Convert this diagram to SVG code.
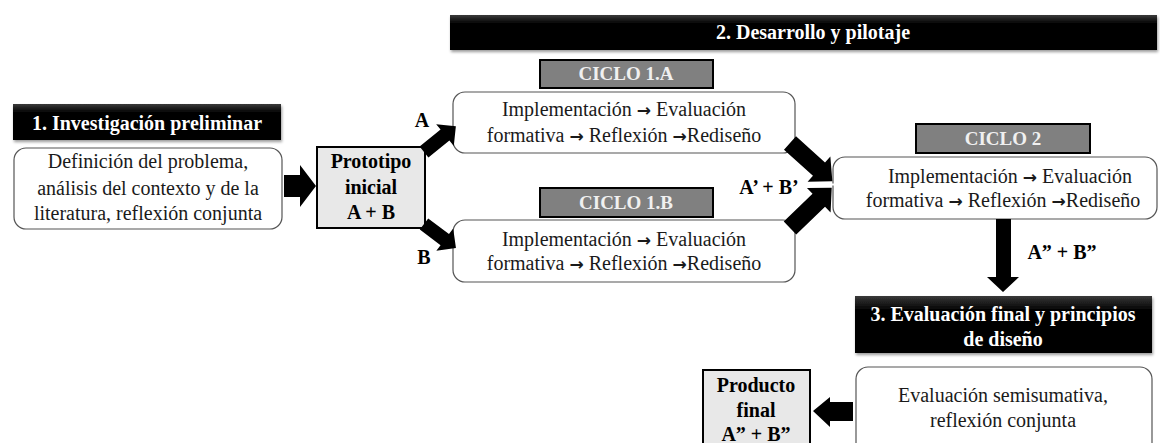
<svg xmlns="http://www.w3.org/2000/svg" width="1160" height="443" viewBox="0 0 1160 443">
<style>
.t{font-family:"Liberation Serif","DejaVu Serif",serif;font-size:20px;fill:#1a1a1a;text-anchor:middle}
.b{font-family:"Liberation Serif","DejaVu Serif",serif;font-size:20px;font-weight:bold;fill:#000;text-anchor:middle}
.h{font-family:"Liberation Serif","DejaVu Serif",serif;font-size:20px;font-weight:bold;fill:#fff;text-anchor:middle}
.c{font-family:"Liberation Serif","DejaVu Serif",serif;font-size:19px;font-weight:bold;fill:#f0f0f0;text-anchor:middle}
.ar{font-family:"DejaVu Sans",sans-serif;font-size:17px;font-weight:bold}
.box{fill:#fff;stroke:#555;stroke-width:1.2}
.proto{fill:#e8e8e8;stroke:#000;stroke-width:2}
.hdr{fill:url(#hg);filter:url(#sh)}
.cyc{fill:#808080;stroke:#000;stroke-width:2}
.arr{fill:#000}
</style>
<defs>
<linearGradient id="hg" x1="0" y1="0" x2="0" y2="1">
<stop offset="0" stop-color="#3a3a3a"/>
<stop offset="0.25" stop-color="#000"/>
<stop offset="1" stop-color="#000"/>
</linearGradient>
<filter id="sh" x="-5%" y="-20%" width="110%" height="150%">
<feGaussianBlur in="SourceAlpha" stdDeviation="1.5"/>
<feOffset dx="1" dy="2" result="o"/>
<feComponentTransfer><feFuncA type="linear" slope="0.4"/></feComponentTransfer>
<feMerge><feMergeNode/><feMergeNode in="SourceGraphic"/></feMerge>
</filter>
</defs>

<g id="header1">
<rect class="hdr" x="13" y="104" width="268" height="36"/>
<text class="h" x="147" y="130">1. Investigación preliminar</text>
</g>
<g id="header2">
<rect class="hdr" x="450" y="15" width="707" height="35"/>
<text class="h" x="813" y="39">2. Desarrollo  y pilotaje</text>
</g>
<g id="header3">
<rect class="hdr" x="855" y="296" width="297" height="57"/>
<text class="h" x="1003" y="321">3. Evaluación final y principios</text>
<text class="h" x="1003" y="346">de diseño</text>
</g>

<g id="n-prelim">
<rect class="box" x="14" y="148" width="268" height="81" rx="12"/>
<text class="t" x="148" y="168">Definición del problema,</text>
<text class="t" x="148" y="195">análisis del contexto y de la</text>
<text class="t" x="148" y="220">literatura, reflexión conjunta</text>
</g>

<g id="n-prototipo">
<rect class="proto" x="317" y="147" width="108" height="81"/>
<text class="b" x="371" y="168">Prototipo</text>
<text class="b" x="371" y="194">inicial</text>
<text class="b" x="371" y="219">A + B</text>
</g>

<g id="n-ciclo1a">
<rect class="cyc" x="540" y="60" width="173" height="28"/>
<text class="c" x="626" y="80">CICLO 1.A</text>
<rect class="box" x="453" y="92" width="342" height="61" rx="12"/>
<text class="t" x="624" y="116">Implementación <tspan class="ar">→</tspan> Evaluación</text>
<text class="t" x="624" y="142">formativa <tspan class="ar">→</tspan> Reflexión <tspan class="ar">→</tspan>Rediseño</text>
</g>

<g id="n-ciclo1b">
<rect class="cyc" x="540" y="188" width="173" height="29"/>
<text class="c" x="626" y="209">CICLO 1.B</text>
<rect class="box" x="453" y="220" width="342" height="62" rx="12"/>
<text class="t" x="624" y="246">Implementación <tspan class="ar">→</tspan> Evaluación</text>
<text class="t" x="624" y="270">formativa <tspan class="ar">→</tspan> Reflexión <tspan class="ar">→</tspan>Rediseño</text>
</g>

<g id="n-ciclo2">
<rect class="cyc" x="916" y="124" width="174" height="29"/>
<text class="c" x="1003" y="145">CICLO 2</text>
<rect class="box" x="833" y="157" width="324" height="62" rx="12"/>
<text class="t" x="1010" y="183">Implementación <tspan class="ar">→</tspan> Evaluación</text>
<text class="t" x="1003" y="207">formativa <tspan class="ar">→</tspan> Reflexión <tspan class="ar">→</tspan>Rediseño</text>
</g>

<g id="n-evalfinal">
<rect class="box" x="856" y="367" width="296" height="90" rx="12"/>
<text class="t" x="1003" y="402">Evaluación semisumativa,</text>
<text class="t" x="1003" y="427">reflexión conjunta</text>
</g>

<g id="n-producto">
<rect class="proto" x="703" y="370" width="107" height="85"/>
<text class="b" x="756" y="392">Producto</text>
<text class="b" x="756" y="417">final</text>
<text class="b" x="756" y="441">A” + B”</text>
</g>

<g id="connectors">
<polygon class="arr" points="284,175 300,175 300,165 316,186 300,207 300,197 284,197"/>
<polygon class="arr" transform="translate(424,152) rotate(-39)" points="0,-7 27,-7 27,-14 41,0 27,14 27,7 0,7"/>
<polygon class="arr" transform="translate(424,224) rotate(37)" points="0,-7 26,-7 26,-14 40,0 26,14 26,7 0,7"/>
<polygon class="arr" transform="translate(790,143) rotate(42)" points="0,-9 39,-9 39,-17 57,0 39,17 39,9 0,9"/>
<polygon class="arr" transform="translate(790,228) rotate(-44)" points="0,-9 40,-9 40,-17 58,0 40,17 40,9 0,9"/>
<line x1="810" y1="184.5" x2="834" y2="184.5" stroke="#fff" stroke-width="2"/>
<polygon class="arr" points="996,219 1011,219 1011,277 1019,277 1003,292 987,277 996,277"/>
<polygon class="arr" points="853,402 830,402 830,397 813,411 830,427 830,421 853,421"/>
<text class="b" x="422" y="127">A</text>
<text class="b" x="424" y="264">B</text>
<text class="b" x="769" y="194">A’ + B’</text>
<text class="b" x="1062" y="259">A” + B”</text>
</g>
</svg>
